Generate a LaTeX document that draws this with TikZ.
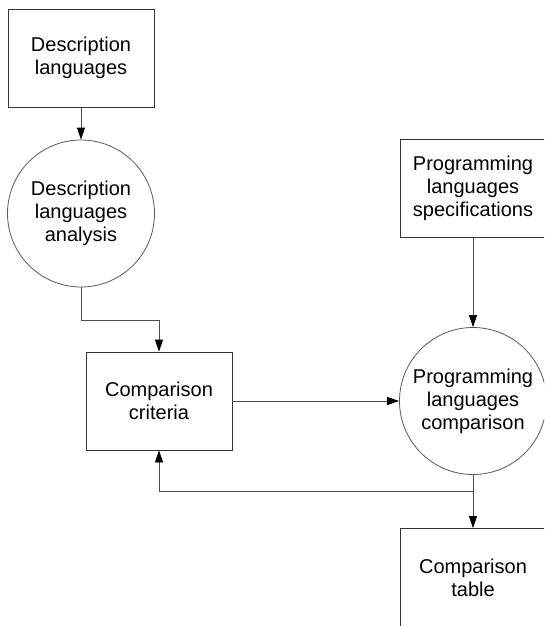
\documentclass[tikz,border=0pt]{standalone}
\usepackage{fontspec}
\setmainfont{Liberation Sans}
\usepackage{tikz}
\usetikzlibrary{arrows.meta}

\tikzset{
  stepbox/.style={draw=black!80,line width=0.8pt,minimum width=146pt,minimum height=98pt,inner sep=0pt,align=center},
  process/.style={draw=black!65,line width=0.8pt,circle,minimum size=147pt,inner sep=0pt,align=center},
  flow/.style={draw=black!70,line width=0.8pt,-{Triangle[length=12pt,width=8pt,color=black]}}
}

\begin{document}
\begin{tikzpicture}[x=1pt,y=-1pt,font=\fontsize{20}{23}\selectfont]
\clip (0,0) rectangle (544,626);
\fill[white] (0,0) rectangle (544,626);

% Description languages side
\node[stepbox] (desc) at (81,58) {Description\\languages};
\node[process] (analysis) at (81,213.5) {Description\\languages\\analysis};
\node[stepbox] (crit) at (159,401) {Comparison\\criteria};

% Programming languages side
\node[stepbox] (spec) at (473,188.5) {Programming\\languages\\specifications};
\node[process] (cmp) at (473,401) {Programming\\languages\\comparison};
\node[stepbox] (table) at (473,577.5) {Comparison\\table};
\coordinate (split) at (473,491);

\draw[flow] (desc) -- (analysis);
\draw[flow] (analysis.south) -- ++(0,33) -| (crit.north);
\draw[flow] (crit) -- (cmp);
\draw[flow] (spec) -- (cmp);
\draw[flow] (cmp) -- (table);
\draw[flow] (split) -| (crit.south);
\end{tikzpicture}
\end{document}
